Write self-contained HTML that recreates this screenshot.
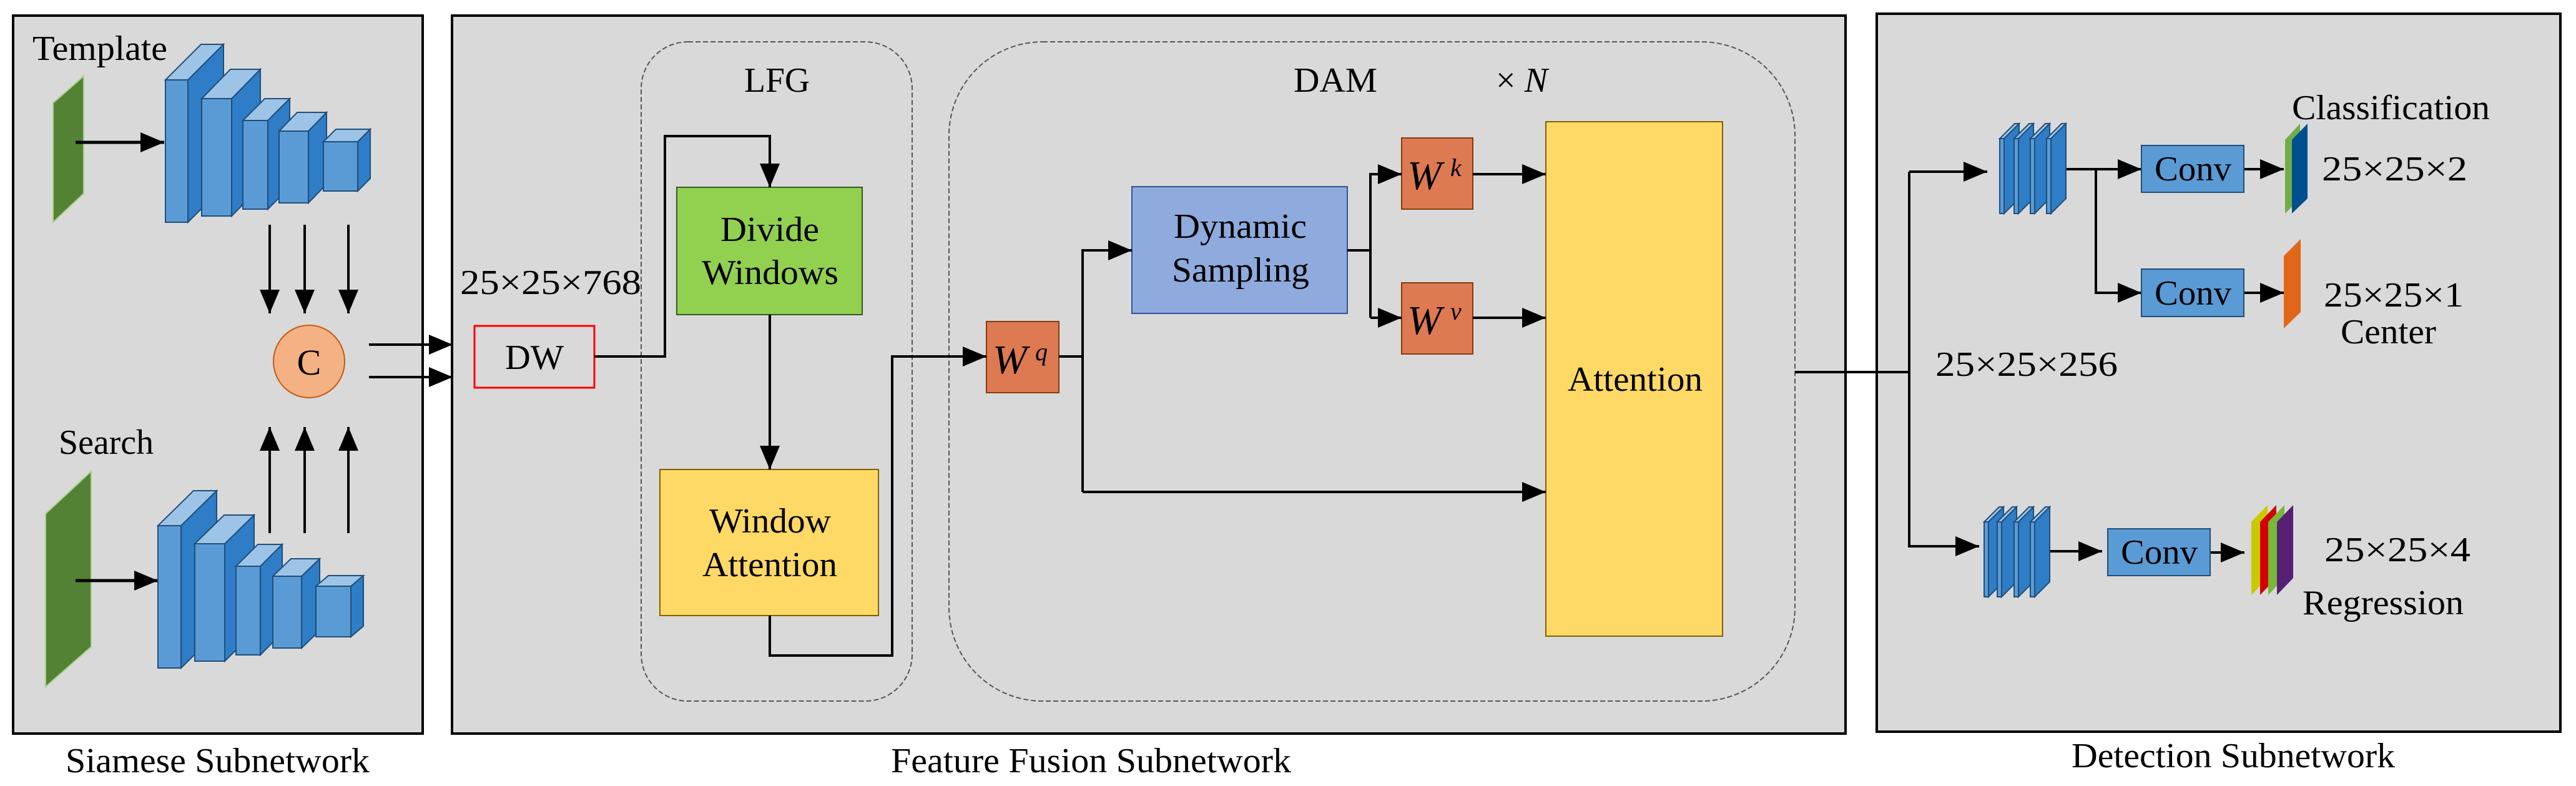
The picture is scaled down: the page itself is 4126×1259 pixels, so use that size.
<!DOCTYPE html>
<html><head><meta charset="utf-8"><style>html,body{margin:0;padding:0;background:#fff}svg{display:block}svg text{font-family:"Liberation Serif","DejaVu Serif","Times New Roman",serif;fill:#000}</style></head><body>
<svg width="4126" height="1259" viewBox="0 0 4126 1259" xmlns="http://www.w3.org/2000/svg">
<defs>
<marker id="b" viewBox="0 0 10 10" refX="10" refY="5" markerWidth="38" markerHeight="32" orient="auto" markerUnits="userSpaceOnUse" preserveAspectRatio="none"><path d="M0,0 L10,5 L0,10 z" fill="#000"/></marker>
<g id="slab"><polygon points="0,24 7,24 31,0 24,0" fill="#9dc3e6"/><polygon points="7,24 31,0 31,120 7,144" fill="#2e7dc6"/><rect x="0" y="24" width="7" height="120" fill="#5b9bd5"/></g>
</defs>
<rect x="21" y="25" width="656" height="1150" fill="#d9d9d9" stroke="#000" stroke-width="4"/>
<rect x="724" y="25" width="2232" height="1150" fill="#d9d9d9" stroke="#000" stroke-width="4"/>
<rect x="3006" y="22" width="1095" height="1150" fill="#d9d9d9" stroke="#000" stroke-width="4"/>
<g font-size="56" lengthAdjust="spacingAndGlyphs">
<text x="105" y="1237" font-size="56" textLength="487" lengthAdjust="spacingAndGlyphs">Siamese Subnetwork</text>
<text x="1427" y="1237" font-size="56" textLength="641" lengthAdjust="spacingAndGlyphs">Feature Fusion Subnetwork</text>
<text x="3318" y="1229" font-size="56" textLength="518" lengthAdjust="spacingAndGlyphs">Detection Subnetwork</text>
<text x="52" y="96" font-size="56" textLength="216" lengthAdjust="spacingAndGlyphs">Template</text>
<text x="94" y="727" font-size="56" textLength="152" lengthAdjust="spacingAndGlyphs">Search</text>
</g>
<polygon points="85,165 134,122 134,310 85,356" fill="#548235" stroke="#a9d18e" stroke-width="2"/>
<line x1="121" y1="228" x2="263" y2="228" stroke="#000" stroke-width="5" marker-end="url(#b)"/>
<g stroke="#1f4e79" stroke-width="2">
<g><polygon points="301,128 358,71 358,299 301,356" fill="#2e7dc6"/><polygon points="265,128 301,128 358,71 322,71" fill="#9dc3e6"/><rect x="265" y="128" width="36" height="228" fill="#5b9bd5"/></g>
<g><polygon points="371,158 417,111 417,299 371,346" fill="#2e7dc6"/><polygon points="323,158 371,158 417,111 369,111" fill="#9dc3e6"/><rect x="323" y="158" width="48" height="188" fill="#5b9bd5"/></g>
<g><polygon points="429,193 464,158 464,300 429,335" fill="#2e7dc6"/><polygon points="389,193 429,193 464,158 424,158" fill="#9dc3e6"/><rect x="389" y="193" width="40" height="142" fill="#5b9bd5"/></g>
<g><polygon points="494,210 523,180 523,295 494,325" fill="#2e7dc6"/><polygon points="447,210 494,210 523,180 476,180" fill="#9dc3e6"/><rect x="447" y="210" width="47" height="115" fill="#5b9bd5"/></g>
<g><polygon points="573,227 593,207 593,286 573,306" fill="#2e7dc6"/><polygon points="518,227 573,227 593,207 538,207" fill="#9dc3e6"/><rect x="518" y="227" width="55" height="79" fill="#5b9bd5"/></g>
</g>
<g stroke="#000" stroke-width="4">
<line x1="432" y1="360" x2="432" y2="502" marker-end="url(#b)"/>
<line x1="488" y1="360" x2="488" y2="502" marker-end="url(#b)"/>
<line x1="558" y1="360" x2="558" y2="502" marker-end="url(#b)"/>
<line x1="432" y1="854" x2="432" y2="684" marker-end="url(#b)"/>
<line x1="488" y1="854" x2="488" y2="684" marker-end="url(#b)"/>
<line x1="558" y1="854" x2="558" y2="684" marker-end="url(#b)"/>
<line x1="591" y1="552" x2="725" y2="552" marker-end="url(#b)"/>
<line x1="591" y1="604" x2="725" y2="604" marker-end="url(#b)"/>
</g>
<ellipse cx="495" cy="579" rx="57" ry="58" fill="#f4b183" stroke="#c55a11" stroke-width="2"/>
<text x="495" y="600" font-size="58" text-anchor="middle">C</text>
<polygon points="73,823 146,755 146,1036 73,1100" fill="#548235" stroke="#a9d18e" stroke-width="2"/>
<line x1="121" y1="930" x2="253" y2="930" stroke="#000" stroke-width="5" marker-end="url(#b)"/>
<g stroke="#1f4e79" stroke-width="2">
<g><polygon points="290,842 347,786 347,1014 290,1070" fill="#2e7dc6"/><polygon points="253,842 290,842 347,786 310,786" fill="#9dc3e6"/><rect x="253" y="842" width="37" height="228" fill="#5b9bd5"/></g>
<g><polygon points="360,871 407,825 407,1013 360,1059" fill="#2e7dc6"/><polygon points="312,871 360,871 407,825 359,825" fill="#9dc3e6"/><rect x="312" y="871" width="48" height="188" fill="#5b9bd5"/></g>
<g><polygon points="417,907 452,872 452,1014 417,1049" fill="#2e7dc6"/><polygon points="378,907 417,907 452,872 413,872" fill="#9dc3e6"/><rect x="378" y="907" width="39" height="142" fill="#5b9bd5"/></g>
<g><polygon points="483,923 512,895 512,1010 483,1038" fill="#2e7dc6"/><polygon points="437,923 483,923 512,895 466,895" fill="#9dc3e6"/><rect x="437" y="923" width="46" height="115" fill="#5b9bd5"/></g>
<g><polygon points="562,939 582,922 582,1003 562,1020" fill="#2e7dc6"/><polygon points="506,939 562,939 582,922 526,922" fill="#9dc3e6"/><rect x="506" y="939" width="56" height="81" fill="#5b9bd5"/></g>
</g>

<text x="737" y="471" font-size="56" textLength="290" lengthAdjust="spacingAndGlyphs">25×25×768</text>
<rect x="760" y="522" width="192" height="99" fill="none" stroke="#ff0000" stroke-width="3"/>
<text x="809" y="591" font-size="56" textLength="94" lengthAdjust="spacingAndGlyphs">DW</text>
<rect x="1027" y="67" width="434" height="1056" rx="75" fill="none" stroke="#555" stroke-width="2" stroke-dasharray="8,4"/>
<rect x="1520" y="67" width="1355" height="1056" rx="150" fill="none" stroke="#555" stroke-width="2" stroke-dasharray="8,4"/>
<text x="1192" y="147" font-size="56" textLength="105" lengthAdjust="spacingAndGlyphs">LFG</text>
<text x="2072" y="147" font-size="56" textLength="134" lengthAdjust="spacingAndGlyphs">DAM</text>
<text x="2396" y="147" font-size="56">× <tspan font-style="italic">N</tspan></text>
<rect x="1084" y="300" width="297" height="204" fill="#92d050" stroke="#385723" stroke-width="2"/>
<text x="1154" y="386" font-size="56" textLength="158" lengthAdjust="spacingAndGlyphs">Divide</text>
<text x="1124" y="455" font-size="56" textLength="219" lengthAdjust="spacingAndGlyphs">Windows</text>
<rect x="1057" y="752" width="350" height="234" fill="#ffd966" stroke="#7f6000" stroke-width="2"/>
<text x="1136" y="853" font-size="56" textLength="195" lengthAdjust="spacingAndGlyphs">Window</text>
<text x="1125" y="923" font-size="56" textLength="216" lengthAdjust="spacingAndGlyphs">Attention</text>
<rect x="1813" y="299" width="345" height="203" fill="#8faadc" stroke="#2f5597" stroke-width="2"/>
<text x="1880" y="381" font-size="56" textLength="213" lengthAdjust="spacingAndGlyphs">Dynamic</text>
<text x="1877" y="451" font-size="56" textLength="220" lengthAdjust="spacingAndGlyphs">Sampling</text>
<rect x="1580" y="515" width="116" height="114" fill="#dd7a52" stroke="#843c0c" stroke-width="2"/>
<text x="1590" y="598" font-size="66" font-style="italic">W</text><text x="1658" y="577" font-size="40" font-style="italic">q</text>
<rect x="2245" y="221" width="114" height="114" fill="#dd7a52" stroke="#843c0c" stroke-width="2"/>
<text x="2254" y="303" font-size="66" font-style="italic">W</text><text x="2323" y="282" font-size="40" font-style="italic">k</text>
<rect x="2245" y="453" width="114" height="114" fill="#dd7a52" stroke="#843c0c" stroke-width="2"/>
<text x="2254" y="535" font-size="66" font-style="italic">W</text><text x="2323" y="512" font-size="40" font-style="italic">v</text>
<rect x="2476" y="195" width="283" height="824" fill="#ffd966" stroke="#7f6000" stroke-width="2"/>
<text x="2511" y="626" font-size="56" textLength="216" lengthAdjust="spacingAndGlyphs">Attention</text>
<g stroke="#000" stroke-width="4" fill="none">
<polyline points="952,571 1065,571 1065,218 1233,218 1233,300" marker-end="url(#b)"/>
<line x1="1233" y1="504" x2="1233" y2="752" marker-end="url(#b)"/>
<polyline points="1233,986 1233,1050 1429,1050 1429,571 1580,571" marker-end="url(#b)"/>
<line x1="1696" y1="571" x2="1734" y2="571"/>
<polyline points="1734,788 1734,401 1813,401" marker-end="url(#b)"/>
<line x1="1734" y1="788" x2="2476" y2="788" marker-end="url(#b)"/>
<line x1="2158" y1="401" x2="2195" y2="401"/>
<polyline points="2195,509 2195,279 2245,279" marker-end="url(#b)"/>
<line x1="2195" y1="509" x2="2245" y2="509" marker-end="url(#b)"/>
<line x1="2359" y1="279" x2="2476" y2="279" marker-end="url(#b)"/>
<line x1="2359" y1="509" x2="2476" y2="509" marker-end="url(#b)"/>
<line x1="2875" y1="596" x2="3058" y2="596"/>
<polyline points="3058,275 3058,875 3170,875" marker-end="url(#b)"/>
<line x1="3058" y1="275" x2="3183" y2="275" marker-end="url(#b)"/>
<line x1="3305" y1="271" x2="3430" y2="271" marker-end="url(#b)"/>
<polyline points="3357,271 3357,469 3430,469" marker-end="url(#b)"/>
<line x1="3594" y1="271" x2="3658" y2="271" marker-end="url(#b)"/>
<line x1="3594" y1="469" x2="3658" y2="469" marker-end="url(#b)"/>
<line x1="3272" y1="883" x2="3367" y2="883" marker-end="url(#b)"/>
<line x1="3540" y1="885" x2="3595" y2="885" marker-end="url(#b)"/>
</g>

<text x="3100" y="602" font-size="56" textLength="292" lengthAdjust="spacingAndGlyphs">25×25×256</text>
<g stroke="#1f4e79" stroke-width="2">
<use href="#slab" x="3203" y="198"/><use href="#slab" x="3226" y="198"/><use href="#slab" x="3252" y="198"/><use href="#slab" x="3278" y="198"/>
<use href="#slab" x="3178" y="812"/><use href="#slab" x="3199" y="812"/><use href="#slab" x="3226" y="812"/><use href="#slab" x="3252" y="812"/>
</g>
<rect x="3430" y="233" width="164" height="75" fill="#5b9bd5" stroke="#1f4e79" stroke-width="2"/>
<text x="3451" y="289" font-size="56" textLength="123" lengthAdjust="spacingAndGlyphs">Conv</text>
<rect x="3430" y="431" width="164" height="76" fill="#5b9bd5" stroke="#1f4e79" stroke-width="2"/>
<text x="3451" y="488" font-size="56" textLength="123" lengthAdjust="spacingAndGlyphs">Conv</text>
<rect x="3376" y="847" width="164" height="75" fill="#5b9bd5" stroke="#1f4e79" stroke-width="2"/>
<text x="3397" y="903" font-size="56" textLength="123" lengthAdjust="spacingAndGlyphs">Conv</text>
<polygon points="3660,224 3684,198 3684,318 3660,342" fill="#70ad47"/>
<polygon points="3671,224 3696,198 3696,318 3671,342" fill="#00508f"/>
<polygon points="3658,410 3685,383 3685,500 3658,526" fill="#e0661a"/>
<polygon points="3606,836 3632,809 3632,926 3606,953" fill="#c9c900"/>
<polygon points="3620,836 3646,809 3646,926 3620,953" fill="#d40000"/>
<polygon points="3633,836 3659,809 3659,926 3633,953" fill="#78b83a"/>
<polygon points="3647,836 3673,809 3673,926 3647,953" fill="#562076"/>
<text x="3671" y="191" font-size="56" textLength="317" lengthAdjust="spacingAndGlyphs">Classification</text>
<text x="3719" y="289" font-size="56" textLength="233" lengthAdjust="spacingAndGlyphs">25×25×2</text>
<text x="3722" y="491" font-size="56" textLength="224" lengthAdjust="spacingAndGlyphs">25×25×1</text>
<text x="3749" y="550" font-size="56" textLength="153" lengthAdjust="spacingAndGlyphs">Center</text>
<text x="3723" y="899" font-size="56" textLength="234" lengthAdjust="spacingAndGlyphs">25×25×4</text>
<text x="3688" y="984" font-size="56" textLength="258" lengthAdjust="spacingAndGlyphs">Regression</text>
</svg>
</body></html>
